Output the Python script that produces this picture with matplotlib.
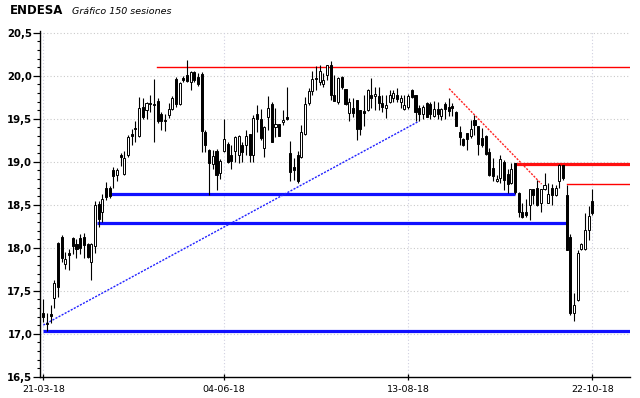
import matplotlib
matplotlib.use("Agg")
import matplotlib.pyplot as plt
from matplotlib.ticker import FixedLocator, FuncFormatter, MultipleLocator

# ---- data ----
opens = [17.24, 17.13, 17.23, 17.42, 18.06, 18.12, 17.81, 17.94, 18.11, 18.04,
         18.11, 18.12, 18.04, 17.83, 18.02, 18.51, 18.42, 18.69, 18.70, 18.90,
         18.85, 19.08, 18.86, 19.08, 19.32, 19.39, 19.30, 19.64, 19.60, 19.685,
         19.67, 19.71, 19.56, 19.485, 19.54, 19.61, 19.96, 19.67, 19.97, 20.01,
         19.93, 20.04, 19.98, 20.02, 19.34, 19.14, 18.97, 19.12, 18.865, 19.12,
         19.21, 19.08, 19.12, 19.08, 19.19, 19.20, 19.32, 19.08, 19.55, 19.50,
         19.16, 19.52, 19.67, 19.40, 19.44, 19.46, 19.52, 19.10, 18.94, 19.08,
         19.05, 19.32, 19.68, 19.82, 19.97, 19.93, 19.90, 20.01, 20.12, 19.77,
         19.70, 19.99, 19.85, 19.57, 19.62, 19.72, 19.60, 19.59, 19.60, 19.77,
         19.76, 19.76, 19.68, 19.63, 19.70, 19.74, 19.78, 19.69, 19.61, 19.64,
         19.83, 19.78, 19.63, 19.56, 19.68, 19.67, 19.53, 19.61, 19.53, 19.67,
         19.64, 19.65, 19.58, 19.34, 19.26, 19.33, 19.30, 19.48, 19.41, 19.28,
         19.30, 19.11, 18.93, 18.77, 18.81, 19.00, 18.86, 18.75, 18.98, 18.64,
         18.42, 18.41, 18.50, 18.68, 18.69, 18.52, 18.68, 18.52, 18.69, 18.61,
         18.77, 18.96, 18.61, 18.12, 17.24, 17.39, 17.98, 17.98, 18.21, 18.54]
highs = [17.40, 17.24, 17.33, 17.62, 18.07, 18.15, 17.95, 17.99, 18.12, 18.10,
         18.16, 18.17, 18.05, 18.05, 18.54, 18.54, 18.62, 18.76, 18.72, 18.94,
         18.93, 19.10, 19.12, 19.31, 19.38, 19.47, 19.75, 19.74, 19.70, 19.78,
         19.96, 19.74, 19.58, 19.55, 19.68, 19.76, 19.99, 19.93, 20.00, 20.18,
         20.05, 20.06, 20.03, 20.04, 19.37, 19.15, 19.14, 19.15, 19.03, 19.50,
         19.23, 19.19, 19.30, 19.31, 19.23, 19.37, 19.32, 19.54, 19.66, 19.61,
         19.41, 19.76, 19.70, 19.62, 19.44, 19.60, 19.87, 19.24, 19.04, 19.12,
         19.43, 19.75, 19.86, 20.05, 20.11, 20.12, 20.03, 20.13, 20.17, 20.01,
         19.99, 20.00, 19.85, 19.74, 19.74, 19.72, 19.60, 19.78, 19.85, 19.97,
         19.87, 19.87, 19.78, 19.78, 19.83, 19.83, 19.86, 19.78, 19.78, 19.79,
         19.84, 19.78, 19.66, 19.66, 19.69, 19.69, 19.71, 19.69, 19.62, 19.69,
         19.74, 19.68, 19.59, 19.41, 19.28, 19.33, 19.48, 19.54, 19.41, 19.39,
         19.31, 19.16, 19.04, 18.85, 19.08, 19.02, 18.92, 18.99, 18.99, 18.65,
         18.52, 18.57, 18.68, 18.68, 18.79, 18.68, 18.87, 18.75, 18.74, 18.73,
         18.97, 18.96, 18.73, 18.16, 17.47, 17.97, 18.06, 18.40, 18.48, 18.68]
lows = [17.14, 17.03, 17.13, 17.30, 17.43, 17.83, 17.75, 17.74, 17.93, 17.88,
        17.93, 17.88, 17.88, 17.62, 17.94, 18.24, 18.30, 18.56, 18.58, 18.69,
        18.78, 18.95, 18.85, 19.06, 19.19, 19.23, 19.29, 19.50, 19.50, 19.58,
        19.23, 19.45, 19.37, 19.36, 19.51, 19.60, 19.64, 19.66, 19.93, 19.93,
        19.83, 19.93, 19.88, 19.11, 19.11, 18.61, 18.92, 18.67, 18.80, 19.11,
        18.98, 18.92, 19.00, 18.99, 19.00, 19.08, 19.00, 19.00, 19.35, 19.25,
        19.06, 19.37, 19.23, 19.29, 19.30, 19.43, 19.48, 18.77, 18.79, 18.75,
        19.04, 19.31, 19.66, 19.77, 19.83, 19.89, 19.87, 19.95, 19.72, 19.71,
        19.67, 19.85, 19.66, 19.47, 19.52, 19.25, 19.31, 19.41, 19.59, 19.62,
        19.60, 19.60, 19.58, 19.51, 19.68, 19.70, 19.70, 19.62, 19.60, 19.61,
        19.74, 19.47, 19.47, 19.50, 19.52, 19.50, 19.52, 19.50, 19.49, 19.50,
        19.53, 19.53, 19.41, 19.19, 19.18, 19.14, 19.28, 19.31, 19.08, 19.17,
        19.08, 18.83, 18.77, 18.76, 18.75, 18.67, 18.64, 18.74, 18.63, 18.36,
        18.34, 18.36, 18.32, 18.51, 18.48, 18.42, 18.67, 18.52, 18.50, 18.60,
        18.69, 18.79, 17.97, 17.22, 17.15, 17.38, 17.97, 17.97, 18.09, 18.38]
closes = [17.20, 17.11, 17.21, 17.59, 17.54, 17.88, 17.87, 17.92, 18.02, 17.99,
          18.00, 18.03, 17.89, 18.04, 18.50, 18.33, 18.57, 18.59, 18.60, 18.83,
          18.90, 19.06, 19.04, 19.29, 19.30, 19.38, 19.63, 19.52, 19.68, 19.675,
          19.66, 19.47, 19.47, 19.47, 19.61, 19.74, 19.67, 19.92, 19.95, 19.94,
          20.04, 19.95, 19.90, 19.36, 19.19, 18.98, 19.07, 18.85, 19.01, 19.26,
          19.00, 19.01, 19.29, 19.30, 19.11, 19.30, 19.08, 19.51, 19.50, 19.27,
          19.40, 19.62, 19.23, 19.44, 19.30, 19.49, 19.50, 18.88, 18.90, 18.77,
          19.35, 19.67, 19.82, 19.96, 19.96, 20.05, 19.95, 20.12, 19.77, 19.71,
          19.97, 19.87, 19.67, 19.70, 19.57, 19.38, 19.38, 19.57, 19.83, 19.74,
          19.79, 19.68, 19.64, 19.66, 19.78, 19.80, 19.73, 19.74, 19.66, 19.76,
          19.75, 19.58, 19.56, 19.64, 19.52, 19.55, 19.61, 19.56, 19.61, 19.61,
          19.59, 19.63, 19.42, 19.29, 19.19, 19.26, 19.38, 19.43, 19.21, 19.19,
          19.09, 18.85, 18.83, 18.80, 19.03, 18.79, 18.74, 18.91, 18.65, 18.41,
          18.36, 18.38, 18.68, 18.61, 18.50, 18.68, 18.73, 18.63, 18.61, 18.70,
          18.96, 18.81, 17.97, 17.24, 17.33, 17.94, 18.04, 18.21, 18.37, 18.40]

date_ticks = [0, 49, 99, 149]
date_labels = ["21-03-18", "04-06-18", "13-08-18", "22-10-18"]

# horizontal support/resistance levels: (level, start, end)
blue_levels = [(18.63, 18.1, 127.9), (18.29, 14.6, 141.7), (17.03, 0.0, 159.2)]
red_levels_thick = [(18.97, 127.9, 159.2)]
red_levels_thin = [(20.10, 30.8, 159.2), (18.74, 142.0, 159.2)]
blue_trend = ([0.0, 101.9], [17.10, 19.47])
red_trend = ([110.1, 135.2], [19.85, 18.74])

# ---- figure ----
fig = plt.figure(figsize=(6.4, 3.98), dpi=100)
ax = fig.add_axes([40 / 640, 1 - 376.7 / 398, 590 / 640, (376.7 - 31) / 398])
ax.set_xlim(-0.9, 159.2)
ax.set_ylim(16.5, 20.52)

# grid
for yv in [17.0, 17.5, 18.0, 18.5, 19.0, 19.5, 20.0, 20.5]:
    ax.axhline(yv, color="#cacaca", lw=0.8, ls=(0, (1, 2)), zorder=0)
for xv in date_ticks:
    ax.axvline(xv, color="#d0d0e0", lw=0.8, ls=(0, (1, 2)), zorder=0)

# levels
for lvl, x0, x1 in blue_levels:
    ax.plot([x0, x1], [lvl, lvl], color="#1010ff", lw=2.3, solid_capstyle="butt", zorder=2)
for lvl, x0, x1 in red_levels_thick:
    ax.plot([x0, x1], [lvl, lvl], color="#ff1010", lw=2.3, solid_capstyle="butt", zorder=2)
for lvl, x0, x1 in red_levels_thin:
    ax.plot([x0, x1], [lvl, lvl], color="#ff0000", lw=1.0, zorder=2)
ax.plot(blue_trend[0], blue_trend[1], color="#2020ff", lw=1.0, ls=(0, (1.5, 1)), zorder=2)
ax.plot(red_trend[0], red_trend[1], color="#ff2020", lw=1.0, ls=(0, (1.5, 1)), zorder=2)

# candles
idx = list(range(len(opens)))
ax.vlines(idx, lows, highs, color="black", lw=0.8, zorder=3)
for i in idx:
    o, c = opens[i], closes[i]
    bottom = min(o, c)
    height = max(abs(c - o), 0.012)
    face = "black" if c < o else "white"
    ax.bar(i, height, bottom=bottom, width=0.56, color=face,
           edgecolor="black", linewidth=0.7, zorder=4)

# axes styling
for s in ["top", "right"]:
    ax.spines[s].set_visible(False)
ax.spines["left"].set_linewidth(1.0)
ax.spines["bottom"].set_linewidth(1.0)

ax.yaxis.set_major_locator(MultipleLocator(0.5))
ax.yaxis.set_minor_locator(MultipleLocator(0.1))
ax.yaxis.set_major_formatter(FuncFormatter(lambda v, p: f"{v:.1f}".replace(".", ",")))
ax.tick_params(axis="y", which="major", direction="out", length=4.8, width=0.9,
               pad=0.8, labelsize=7.3)
ax.tick_params(axis="y", which="minor", direction="out", length=2.2, width=0.8)
for lab in ax.get_yticklabels():
    lab.set_fontweight("bold")

ax.xaxis.set_major_locator(FixedLocator(date_ticks))
ax.set_xticklabels(date_labels)
ax.tick_params(axis="x", which="major", direction="inout", length=5, width=0.9,
               pad=3.5, labelsize=6.8)

fig.text(10 / 640, 1 - 11 / 398, "ENDESA", fontsize=8.5, fontweight="bold",
         va="center", ha="left")
fig.text(72 / 640, 1 - 11.5 / 398, "Gráfico 150 sesiones", fontsize=6.8,
         style="italic", va="center", ha="left")

fig.savefig("out.png", dpi=100)
